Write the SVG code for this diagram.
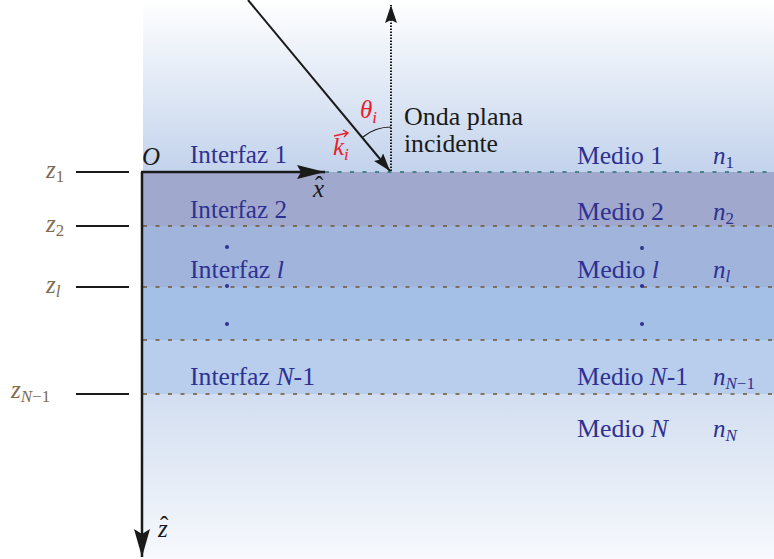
<svg xmlns="http://www.w3.org/2000/svg" width="774" height="559" viewBox="0 0 774 559">
<defs>
<linearGradient id="gTop" x1="0" y1="0" x2="0" y2="1">
<stop offset="0" stop-color="#ffffff"/>
<stop offset="1" stop-color="#c3d3ec"/>
</linearGradient>
<linearGradient id="gBot" x1="0" y1="0" x2="0" y2="1">
<stop offset="0" stop-color="#d2def0"/>
<stop offset="1" stop-color="#f7f9fd"/>
</linearGradient>
<marker id="ahBig" markerWidth="28" markerHeight="16" refX="28" refY="8" orient="auto" markerUnits="userSpaceOnUse">
<path d="M0,0 L28,8 L0,16 L5,8 Z" fill="#1a1a1a"/>
</marker>
<marker id="ahX" markerWidth="28" markerHeight="14" refX="28" refY="7" orient="auto" markerUnits="userSpaceOnUse">
<path d="M0,0 L28,7 L0,14 L4,7 Z" fill="#1a1a1a"/>
</marker>
<marker id="ahSm" markerWidth="18" markerHeight="12" refX="18" refY="6" orient="auto" markerUnits="userSpaceOnUse">
<path d="M0,0 L18,6 L0,12 L3,6 Z" fill="#1a1a1a"/>
</marker>
</defs>
<g id="background">
<rect x="143" y="0" width="631" height="172" fill="url(#gTop)"/>
<rect x="143" y="172" width="631" height="54" fill="#a0a9cd"/>
<rect x="143" y="226" width="631" height="61" fill="#a1b5dc"/>
<rect x="143" y="287" width="631" height="53" fill="#a4c0e6"/>
<rect x="143" y="340" width="631" height="54" fill="#b9ceec"/>
<rect x="143" y="394" width="631" height="165" fill="url(#gBot)"/>
</g>
<g id="connectors" fill="none">
<g stroke-width="1.6" stroke-dasharray="4 8.5">
<line x1="325" y1="172" x2="774" y2="172" stroke="#27706e"/>
<line x1="143" y1="226" x2="774" y2="226" stroke="#6e5535"/>
<line x1="143" y1="287" x2="774" y2="287" stroke="#6e5535"/>
<line x1="143" y1="340" x2="774" y2="340" stroke="#6e5535"/>
<line x1="143" y1="394" x2="774" y2="394" stroke="#6e5535"/>
</g>
<line x1="142" y1="172" x2="142" y2="557" stroke="#1a1a1a" stroke-width="2.5" marker-end="url(#ahBig)"/>
<line x1="141" y1="172" x2="325" y2="172" stroke="#1a1a1a" stroke-width="2.5" marker-end="url(#ahX)"/>
<line x1="248" y1="0" x2="390" y2="171" stroke="#1a1a1a" stroke-width="2" marker-end="url(#ahSm)"/>
<line x1="391" y1="171" x2="391" y2="5" stroke="#1a1a1a" stroke-width="2" stroke-dasharray="1.5 1.5" marker-end="url(#ahSm)"/>
<path d="M363,137 A44,44 0 0 1 391,127" stroke="#1a1a1a" stroke-width="1.2"/>
<g stroke="#1a1a1a" stroke-width="2">
<line x1="76" y1="172" x2="129" y2="172"/>
<line x1="76" y1="226" x2="129" y2="226"/>
<line x1="76" y1="287" x2="129" y2="287"/>
<line x1="76" y1="394" x2="129" y2="394"/>
</g>
</g>
<g id="axis-labels" fill="#1a1a1a">
<text font-family="'Liberation Serif', serif" font-size="25" font-style="italic" x="142" y="165">O</text>
<text font-family="'Liberation Serif', serif" font-size="25" font-style="italic" x="313" y="197">x</text>
<text font-family="'Liberation Serif', serif" font-size="25" x="315" y="194">&#710;</text>
<text font-family="'Liberation Serif', serif" font-size="25" font-style="italic" x="158" y="537">z</text>
<text font-family="'Liberation Serif', serif" font-size="25" x="160" y="534">&#710;</text>
</g>
<g id="incident">
<text font-family="'Liberation Serif', serif" font-size="25" fill="#e8202a" font-style="italic" x="360" y="118">&#952;<tspan font-size="17" dy="5">i</tspan></text>
<text font-family="'Liberation Serif', serif" font-size="25" fill="#e8202a" font-style="italic" x="333" y="155">k<tspan font-size="17" dy="5">i</tspan></text>
<path d="M334,136 L347,133 M343,130 L348,133 L344,137" stroke="#e8202a" stroke-width="1.3" fill="none"/>
<text font-family="'Liberation Serif', serif" font-size="25" fill="#1a1a1a" x="404" y="125" textLength="119" lengthAdjust="spacingAndGlyphs">Onda plana</text>
<text font-family="'Liberation Serif', serif" font-size="25" fill="#1a1a1a" x="404" y="152" textLength="94" lengthAdjust="spacingAndGlyphs">incidente</text>
</g>
<g id="z-labels" fill="#7f6c4f">
<text font-family="'Liberation Serif', serif" font-size="25" font-style="italic" x="46" y="178">z<tspan font-size="17" font-style="normal" dy="4">1</tspan></text>
<text font-family="'Liberation Serif', serif" font-size="25" font-style="italic" x="46" y="232">z<tspan font-size="17" font-style="normal" dy="4">2</tspan></text>
<text font-family="'Liberation Serif', serif" font-size="25" font-style="italic" x="46" y="293">z<tspan font-size="17" dy="4">l</tspan></text>
<text font-family="'Liberation Serif', serif" font-size="25" font-style="italic" x="11" y="398">z<tspan font-size="17" dy="4">N</tspan><tspan font-size="17" font-style="normal">&#8722;1</tspan></text>
</g>
<g id="interfaces" fill="#2e3191">
<text font-family="'Liberation Serif', serif" font-size="25" x="190" y="163" textLength="97" lengthAdjust="spacingAndGlyphs">Interfaz 1</text>
<text font-family="'Liberation Serif', serif" font-size="25" x="190" y="218" textLength="97" lengthAdjust="spacingAndGlyphs">Interfaz 2</text>
<text font-family="'Liberation Serif', serif" font-size="25" x="190" y="278" textLength="94" lengthAdjust="spacingAndGlyphs">Interfaz <tspan font-style="italic">l</tspan></text>
<text font-family="'Liberation Serif', serif" font-size="25" x="190" y="385" textLength="125" lengthAdjust="spacingAndGlyphs">Interfaz <tspan font-style="italic">N</tspan>-1</text>
</g>
<g id="media" fill="#2e3191">
<text font-family="'Liberation Serif', serif" font-size="25" x="577" y="164" textLength="86" lengthAdjust="spacingAndGlyphs">Medio 1</text>
<text font-family="'Liberation Serif', serif" font-size="25" x="577" y="220" textLength="87" lengthAdjust="spacingAndGlyphs">Medio 2</text>
<text font-family="'Liberation Serif', serif" font-size="25" x="577" y="278" textLength="82" lengthAdjust="spacingAndGlyphs">Medio <tspan font-style="italic">l</tspan></text>
<text font-family="'Liberation Serif', serif" font-size="25" x="577" y="385" textLength="111" lengthAdjust="spacingAndGlyphs">Medio <tspan font-style="italic">N</tspan>-1</text>
<text font-family="'Liberation Serif', serif" font-size="25" x="577" y="437" textLength="91" lengthAdjust="spacingAndGlyphs">Medio <tspan font-style="italic">N</tspan></text>
</g>
<g id="indices" fill="#2e3191">
<text font-family="'Liberation Serif', serif" font-size="25" font-style="italic" x="713" y="164">n<tspan font-size="17" font-style="normal" dy="4">1</tspan></text>
<text font-family="'Liberation Serif', serif" font-size="25" font-style="italic" x="713" y="220">n<tspan font-size="17" font-style="normal" dy="4">2</tspan></text>
<text font-family="'Liberation Serif', serif" font-size="25" font-style="italic" x="713" y="278">n<tspan font-size="17" dy="4">l</tspan></text>
<text font-family="'Liberation Serif', serif" font-size="25" font-style="italic" x="713" y="385">n<tspan font-size="17" dy="4">N</tspan><tspan font-size="17" font-style="normal">&#8722;1</tspan></text>
<text font-family="'Liberation Serif', serif" font-size="25" font-style="italic" x="713" y="437">n<tspan font-size="17" dy="4">N</tspan></text>
</g>
<g id="ellipsis" fill="#2e3191">
<circle cx="227" cy="247" r="2"/>
<circle cx="227" cy="286" r="2"/>
<circle cx="227" cy="324" r="2"/>
<circle cx="642" cy="248" r="2"/>
<circle cx="642" cy="286" r="2"/>
<circle cx="642" cy="324" r="2"/>
</g>
</svg>
